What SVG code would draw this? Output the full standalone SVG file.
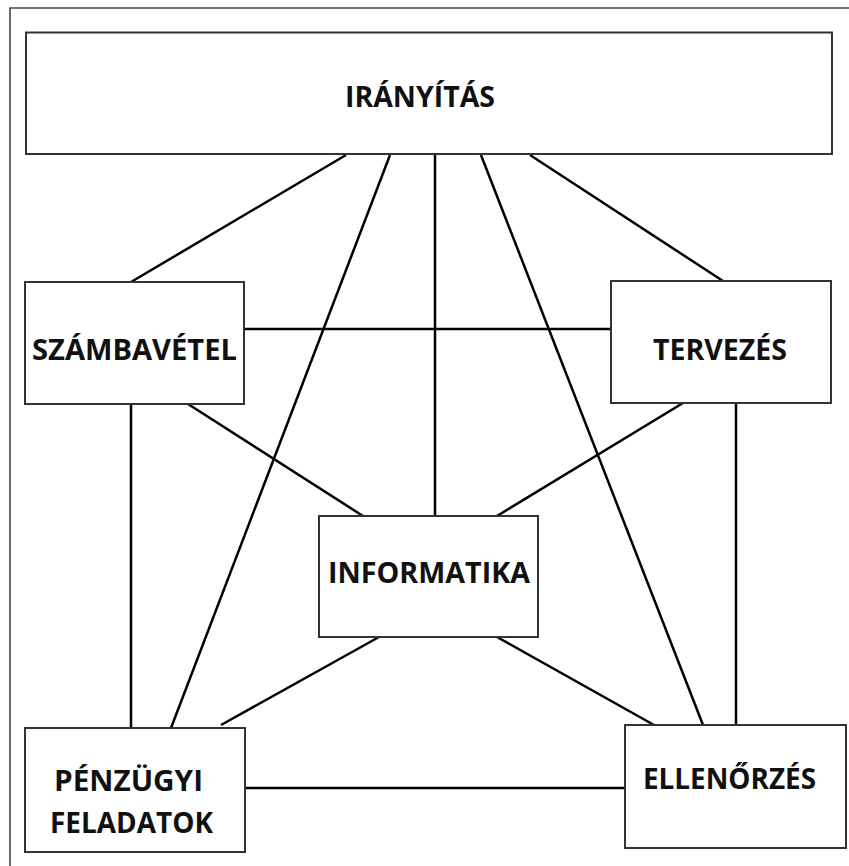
<svg xmlns="http://www.w3.org/2000/svg" width="849" height="866" viewBox="0 0 849 866">
  <style>
    .frame { fill: none; stroke: #444; stroke-width: 1.6; }
    .box { fill: #fff; stroke: #333; stroke-width: 2; }
    .link { stroke: #000; stroke-width: 2.5; fill: none; }
    .label { font-family: "Open Sans", "Liberation Sans", sans-serif; font-weight: 700; font-size: 28px; fill: #111; }
  </style>
  <rect width="849" height="866" fill="#fff"/>
  <!-- page frame: left and top edges only -->
  <polyline class="frame" points="10,866 10,8 849,8"/>

  <g id="connectors">
    <line class="link" x1="346" y1="155" x2="131" y2="282"/>
    <line class="link" x1="530" y1="155" x2="723" y2="281"/>
    <line class="link" x1="435" y1="155" x2="435" y2="516"/>
    <line class="link" x1="390" y1="155" x2="171" y2="728"/>
    <line class="link" x1="481" y1="155" x2="703" y2="725"/>
    <line class="link" x1="244" y1="329" x2="611" y2="329"/>
    <line class="link" x1="131" y1="404" x2="131" y2="728"/>
    <line class="link" x1="188" y1="404" x2="363" y2="516"/>
    <line class="link" x1="683" y1="403" x2="497" y2="516"/>
    <line class="link" x1="736" y1="403" x2="736" y2="725"/>
    <line class="link" x1="379" y1="637" x2="221" y2="725"/>
    <line class="link" x1="497" y1="637" x2="654" y2="725"/>
    <line class="link" x1="245" y1="788" x2="625" y2="788"/>
  </g>

  <g id="iranyitas">
    <rect class="box" x="26" y="32.5" width="806" height="121.5"/>
    <text class="label" x="345" y="107" textLength="150" lengthAdjust="spacingAndGlyphs">IRÁNYÍTÁS</text>
  </g>
  <g id="szambavetel">
    <rect class="box" x="25" y="282" width="219" height="122"/>
    <text class="label" x="32" y="360" textLength="205" lengthAdjust="spacingAndGlyphs">SZÁMBAVÉTEL</text>
  </g>
  <g id="tervezes">
    <rect class="box" x="611" y="281" width="220" height="122"/>
    <text class="label" x="653" y="360" textLength="134" lengthAdjust="spacingAndGlyphs">TERVEZÉS</text>
  </g>
  <g id="informatika">
    <rect class="box" x="319" y="516" width="219" height="121"/>
    <text class="label" x="328" y="583" textLength="202" lengthAdjust="spacingAndGlyphs">INFORMATIKA</text>
  </g>
  <g id="penzugyi-feladatok">
    <rect class="box" x="25" y="728" width="220" height="124"/>
    <text class="label" x="54" y="791" textLength="149" lengthAdjust="spacingAndGlyphs">PÉNZÜGYI</text>
    <text class="label" x="50" y="833" textLength="163" lengthAdjust="spacingAndGlyphs">FELADATOK</text>
  </g>
  <g id="ellenorzes">
    <rect class="box" x="625" y="725" width="221" height="123"/>
    <text class="label" x="643" y="789" textLength="173" lengthAdjust="spacingAndGlyphs">ELLENŐRZÉS</text>
  </g>
</svg>
